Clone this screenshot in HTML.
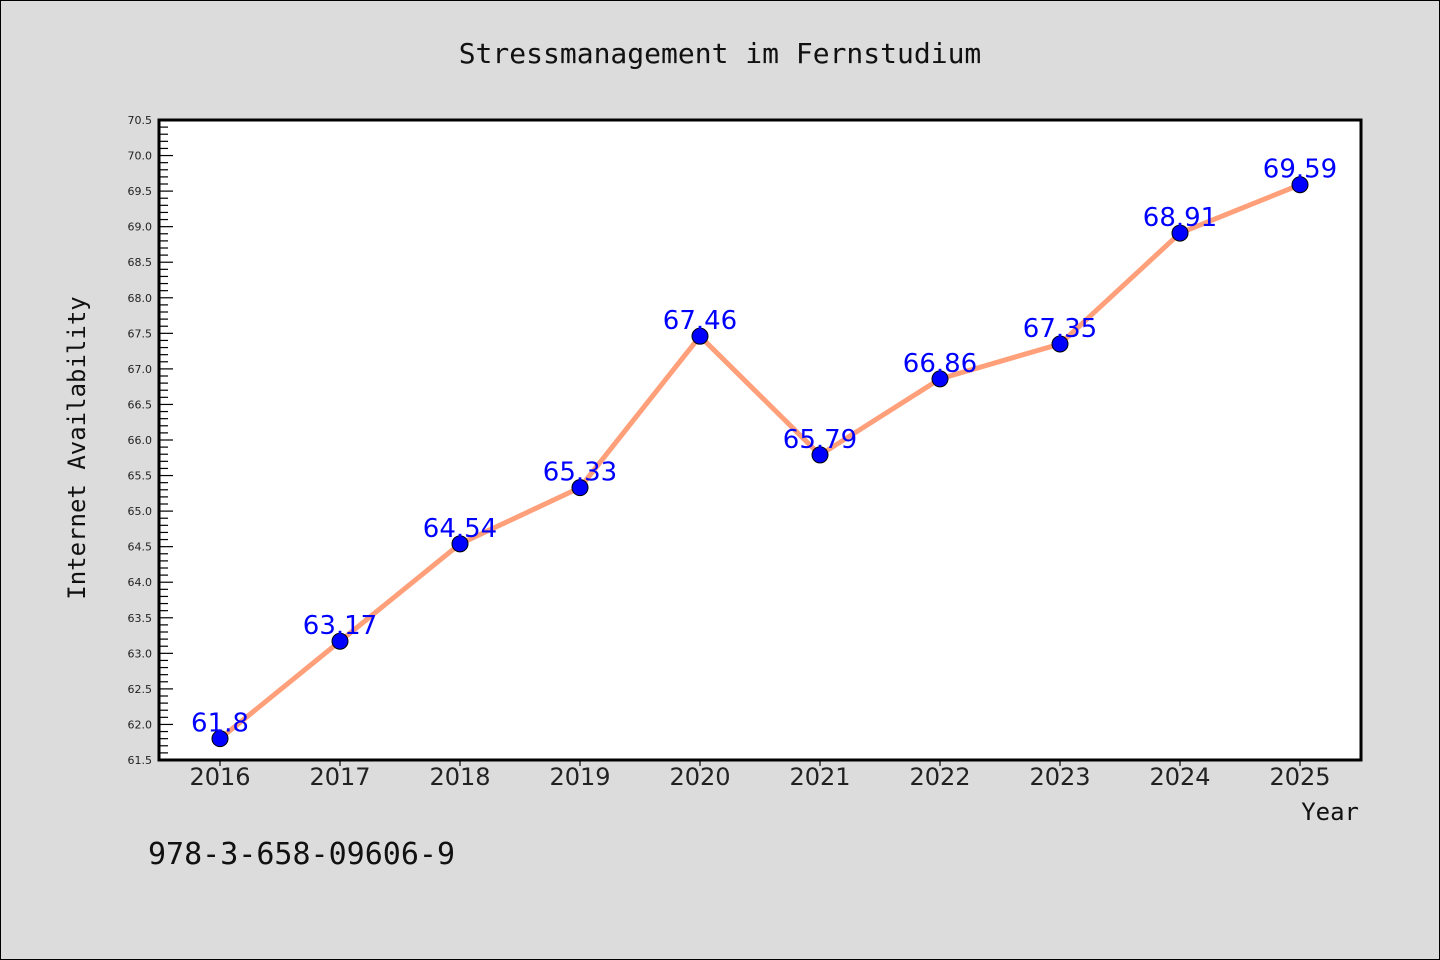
<!DOCTYPE html>
<html><head><meta charset="utf-8"><style>
html,body{margin:0;padding:0;background:#dcdcdc;}
svg{display:block;}
</style></head><body>
<svg width="1440" height="960" xmlns="http://www.w3.org/2000/svg">
<rect x="0.5" y="0.5" width="1439" height="959" fill="#dcdcdc" stroke="#000"/>
<text x="720" y="63" text-anchor="middle" font-family="'DejaVu Sans Mono','Liberation Mono',monospace" font-size="28" fill="#111">Stressmanagement im Fernstudium</text>
<rect x="159" y="120" width="1202" height="640" fill="#fff"/>
<g id="yaxis"></g>
<g id="xaxis"></g>
<g id="series"></g>
<rect x="159" y="120" width="1202" height="640" fill="none" stroke="#000" stroke-width="3"/>
<text transform="translate(85,448) rotate(-90)" text-anchor="middle" font-family="'DejaVu Sans Mono','Liberation Mono',monospace" font-size="24" fill="#111">Internet Availability</text>
<text x="1359" y="820" text-anchor="end" font-family="'DejaVu Sans Mono','Liberation Mono',monospace" font-size="24" fill="#111">Year</text>
<text x="148" y="864" font-family="'DejaVu Sans Mono','Liberation Mono',monospace" font-size="30" fill="#111">978-3-658-09606-9</text>
</svg>
<script>
const years = ["2016","2017","2018","2019","2020","2021","2022","2023","2024","2025"];
const values = [61.8,63.17,64.54,65.33,67.46,65.79,66.86,67.35,68.91,69.59];
const valueLabels = ["61.8","63.17","64.54","65.33","67.46","65.79","66.86","67.35","68.91","69.59"];
const yMin = 61.5, yMax = 70.5;
const NS="http://www.w3.org/2000/svg";
function xs(i){return 220 + i*120;}
function ys(v){return 760 - (v-yMin)/(yMax-yMin)*640;}
function mk(tag,attrs,parent){const e=document.createElementNS(NS,tag);for(const k in attrs)e.setAttribute(k,attrs[k]);parent.appendChild(e);return e;}
const ya=document.getElementById('yaxis');
for(let k=0;k<=90;k++){
  const v=yMin+k*0.1, y=ys(v), major=k%5===0;
  const t=mk('line',{x1:159,x2:159+(major?14:9),y1:y,y2:y,stroke:'#000','stroke-width':1.2},ya);
  
  
  if(major){
    const l=mk('text',{x:152,y:y+4,'text-anchor':'end','font-family':"'DejaVu Sans','Liberation Sans',sans-serif",'font-size':11,fill:'#222'},ya);
    l.textContent=v.toFixed(1);
    
    
  }
}
const xa=document.getElementById('xaxis');
years.forEach((yr,i)=>{
  const x=xs(i);
  const t=mk('line',{x1:x,x2:x,y1:760,y2:766,stroke:'#000','stroke-width':1.2},xa);
  
  
  const l=mk('text',{x:x,y:785,'text-anchor':'middle','font-family':"'DejaVu Sans','Liberation Sans',sans-serif",'font-size':24,fill:'#222'},xa);
  l.textContent=yr;
  
  
});
const s=document.getElementById('series');
const pl=mk('polyline',{points:values.map((v,i)=>xs(i)+','+ys(v)).join(' '),fill:'none',stroke:'#ffa07a','stroke-width':5,'stroke-linejoin':'round'},s);


values.forEach((v,i)=>{
  const c=mk('circle',{cx:xs(i),cy:ys(v),r:8,fill:'#0000ff',stroke:'#000','stroke-width':1},s);
  
  
  const l=mk('text',{x:xs(i),y:ys(v)-7,'text-anchor':'middle','font-family':"'DejaVu Sans','Liberation Sans',sans-serif",'font-size':26,fill:'#0000ff'},s);
  l.textContent=valueLabels[i];
  
  
});
</script>
</body></html>
